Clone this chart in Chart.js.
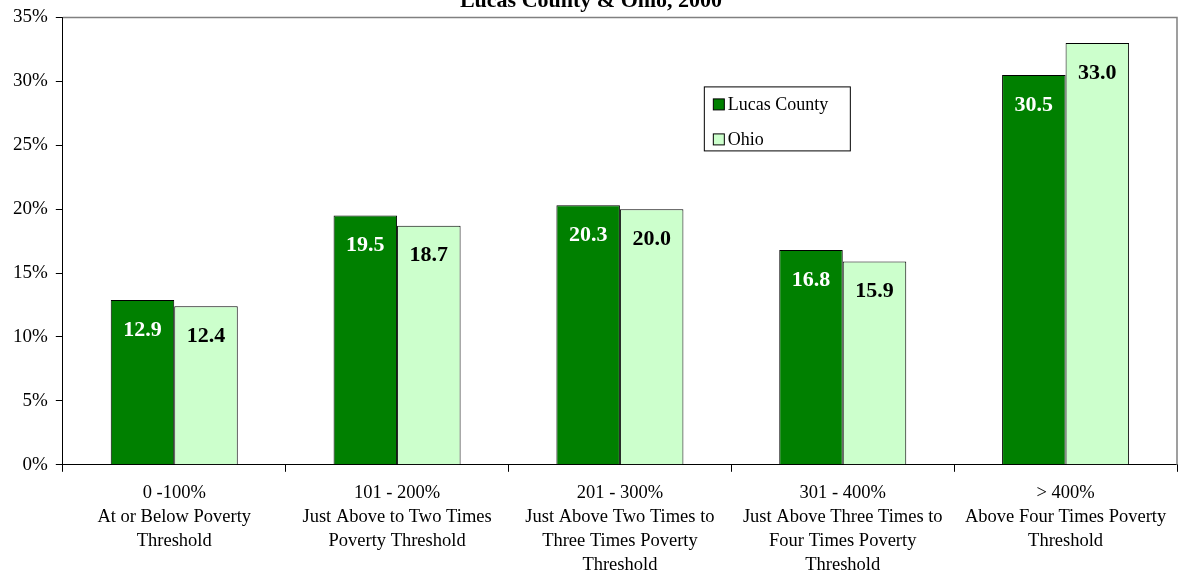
<!DOCTYPE html>
<html>
<head>
<meta charset="utf-8">
<script src="https://cdn.jsdelivr.net/npm/chart.js@4.4.1/dist/chart.umd.min.js"></script>
<style>
  html, body { margin: 0; padding: 0; background: #fff; overflow: hidden; }
  #contenedor { position: absolute; left: 0; top: -12px; width: 1178px; height: 598px; }
</style>
</head>
<body>
<div id="contenedor"><canvas id="grafico"></canvas></div>
<script>
// datos del grafico
const categorias = [
  ["0 -100%", "At or Below Poverty", "Threshold"],
  ["101 - 200%", "Just Above to Two Times", "Poverty Threshold"],
  ["201 - 300%", "Just Above Two Times to", "Three Times Poverty", "Threshold"],
  ["301 - 400%", "Just Above Three Times to", "Four Times Poverty", "Threshold"],
  ["> 400%", "Above Four Times Poverty", "Threshold"]
];
const lucasCounty = [12.9, 19.5, 20.3, 16.8, 30.5];
const ohio = [12.4, 18.7, 20.0, 15.9, 33.0];
const ticksY = [0, 5, 10, 15, 20, 25, 30, 35];
const nombresSeries = ["Lucas County", "Ohio"];

const fuente = "'Liberation Serif', 'Times New Roman', serif";

// etiquetas con el valor dentro de cada barra
const etiquetas = {
  id: "etiquetas",
  afterDatasetsDraw(chart) {
    const ctx = chart.ctx;
    ctx.save();
    ctx.font = "bold 22px " + fuente;
    ctx.textAlign = "center";
    ctx.textBaseline = "middle";
    chart.data.datasets.forEach(function (ds, i) {
      chart.getDatasetMeta(i).data.forEach(function (barra, j) {
        ctx.fillStyle = ds.colorEtiqueta;
        ctx.fillText(ds.data[j].toFixed(1), barra.x, barra.y + 30);
      });
    });
    ctx.restore();
  }
};

// marco gris arriba y a la derecha + leyenda en recuadro
const marcoYLeyenda = {
  id: "marcoYLeyenda",
  afterDraw(chart) {
    const ctx = chart.ctx;
    const area = chart.chartArea;
    ctx.save();
    ctx.strokeStyle = "#808080";
    ctx.lineWidth = 1.5;
    ctx.beginPath();
    ctx.moveTo(area.left, area.top);
    ctx.lineTo(area.right, area.top);
    ctx.lineTo(area.right, area.bottom);
    ctx.stroke();

    // leyenda
    const x = area.left + 641;
    const y = area.top + 69;
    ctx.fillStyle = "#fff";
    ctx.fillRect(x, y, 146, 64);
    ctx.strokeStyle = "#000";
    ctx.lineWidth = 1;
    ctx.strokeRect(x + 0.5, y + 0.5, 146, 64);
    ctx.font = "18px " + fuente;
    ctx.textBaseline = "middle";
    ctx.textAlign = "left";
    chart.data.datasets.forEach(function (ds, i) {
      const cy = y + 18 + i * 35;
      ctx.fillStyle = ds.backgroundColor;
      ctx.fillRect(x + 9.5, cy - 5.5, 11, 11);
      ctx.strokeRect(x + 9.5, cy - 5.5, 11, 11);
      ctx.fillStyle = "#000";
      ctx.fillText(ds.label, x + 24, cy + 1);
    });
    ctx.restore();
  }
};

const config = {
  type: "bar",
  data: {
    labels: categorias,
    datasets: [
      {
        label: nombresSeries[0],
        data: lucasCounty,
        backgroundColor: "#008000",
        borderColor: "#000",
        borderWidth: 1,
        colorEtiqueta: "#fff"
      },
      {
        label: nombresSeries[1],
        data: ohio,
        backgroundColor: "#ccffcc",
        borderColor: "#000",
        borderWidth: 1,
        colorEtiqueta: "#000"
      }
    ]
  },
  options: {
    responsive: true,
    maintainAspectRatio: false,
    animation: false,
    layout: { padding: { left: 5, right: 1, top: 0, bottom: 0 } },
    datasets: {
      bar: { categoryPercentage: 0.57, barPercentage: 1.0 }
    },
    plugins: {
      legend: { display: false },
      tooltip: { enabled: false },
      title: {
        display: true,
        text: "Lucas County & Ohio, 2000",
        color: "#000",
        font: { family: fuente, size: 22, weight: "bold" },
        padding: { top: 0, bottom: 3 }
      }
    },
    scales: {
      x: {
        grid: {
          offset: true,
          drawOnChartArea: false,
          drawTicks: true,
          tickLength: 7,
          color: "#000"
        },
        border: { color: "#000", width: 1 },
        ticks: {
          color: "#000",
          font: { family: fuente, size: 18.5, lineHeight: 1.3 },
          padding: 9,
          maxRotation: 0,
          autoSkip: false
        }
      },
      y: {
        min: 0,
        max: 35,
        afterBuildTicks: function (eje) {
          eje.ticks = ticksY.map(function (v) { return { value: v }; });
        },
        grid: {
          drawOnChartArea: false,
          drawTicks: true,
          tickLength: 7,
          color: "#000"
        },
        border: { color: "#000", width: 1 },
        ticks: {
          color: "#000",
          font: { family: fuente, size: 19 },
          padding: 8,
          callback: function (v) { return v + "%"; }
        }
      }
    }
  },
  plugins: [etiquetas, marcoYLeyenda]
};

new Chart(document.getElementById("grafico"), config);
</script>
</body>
</html>
